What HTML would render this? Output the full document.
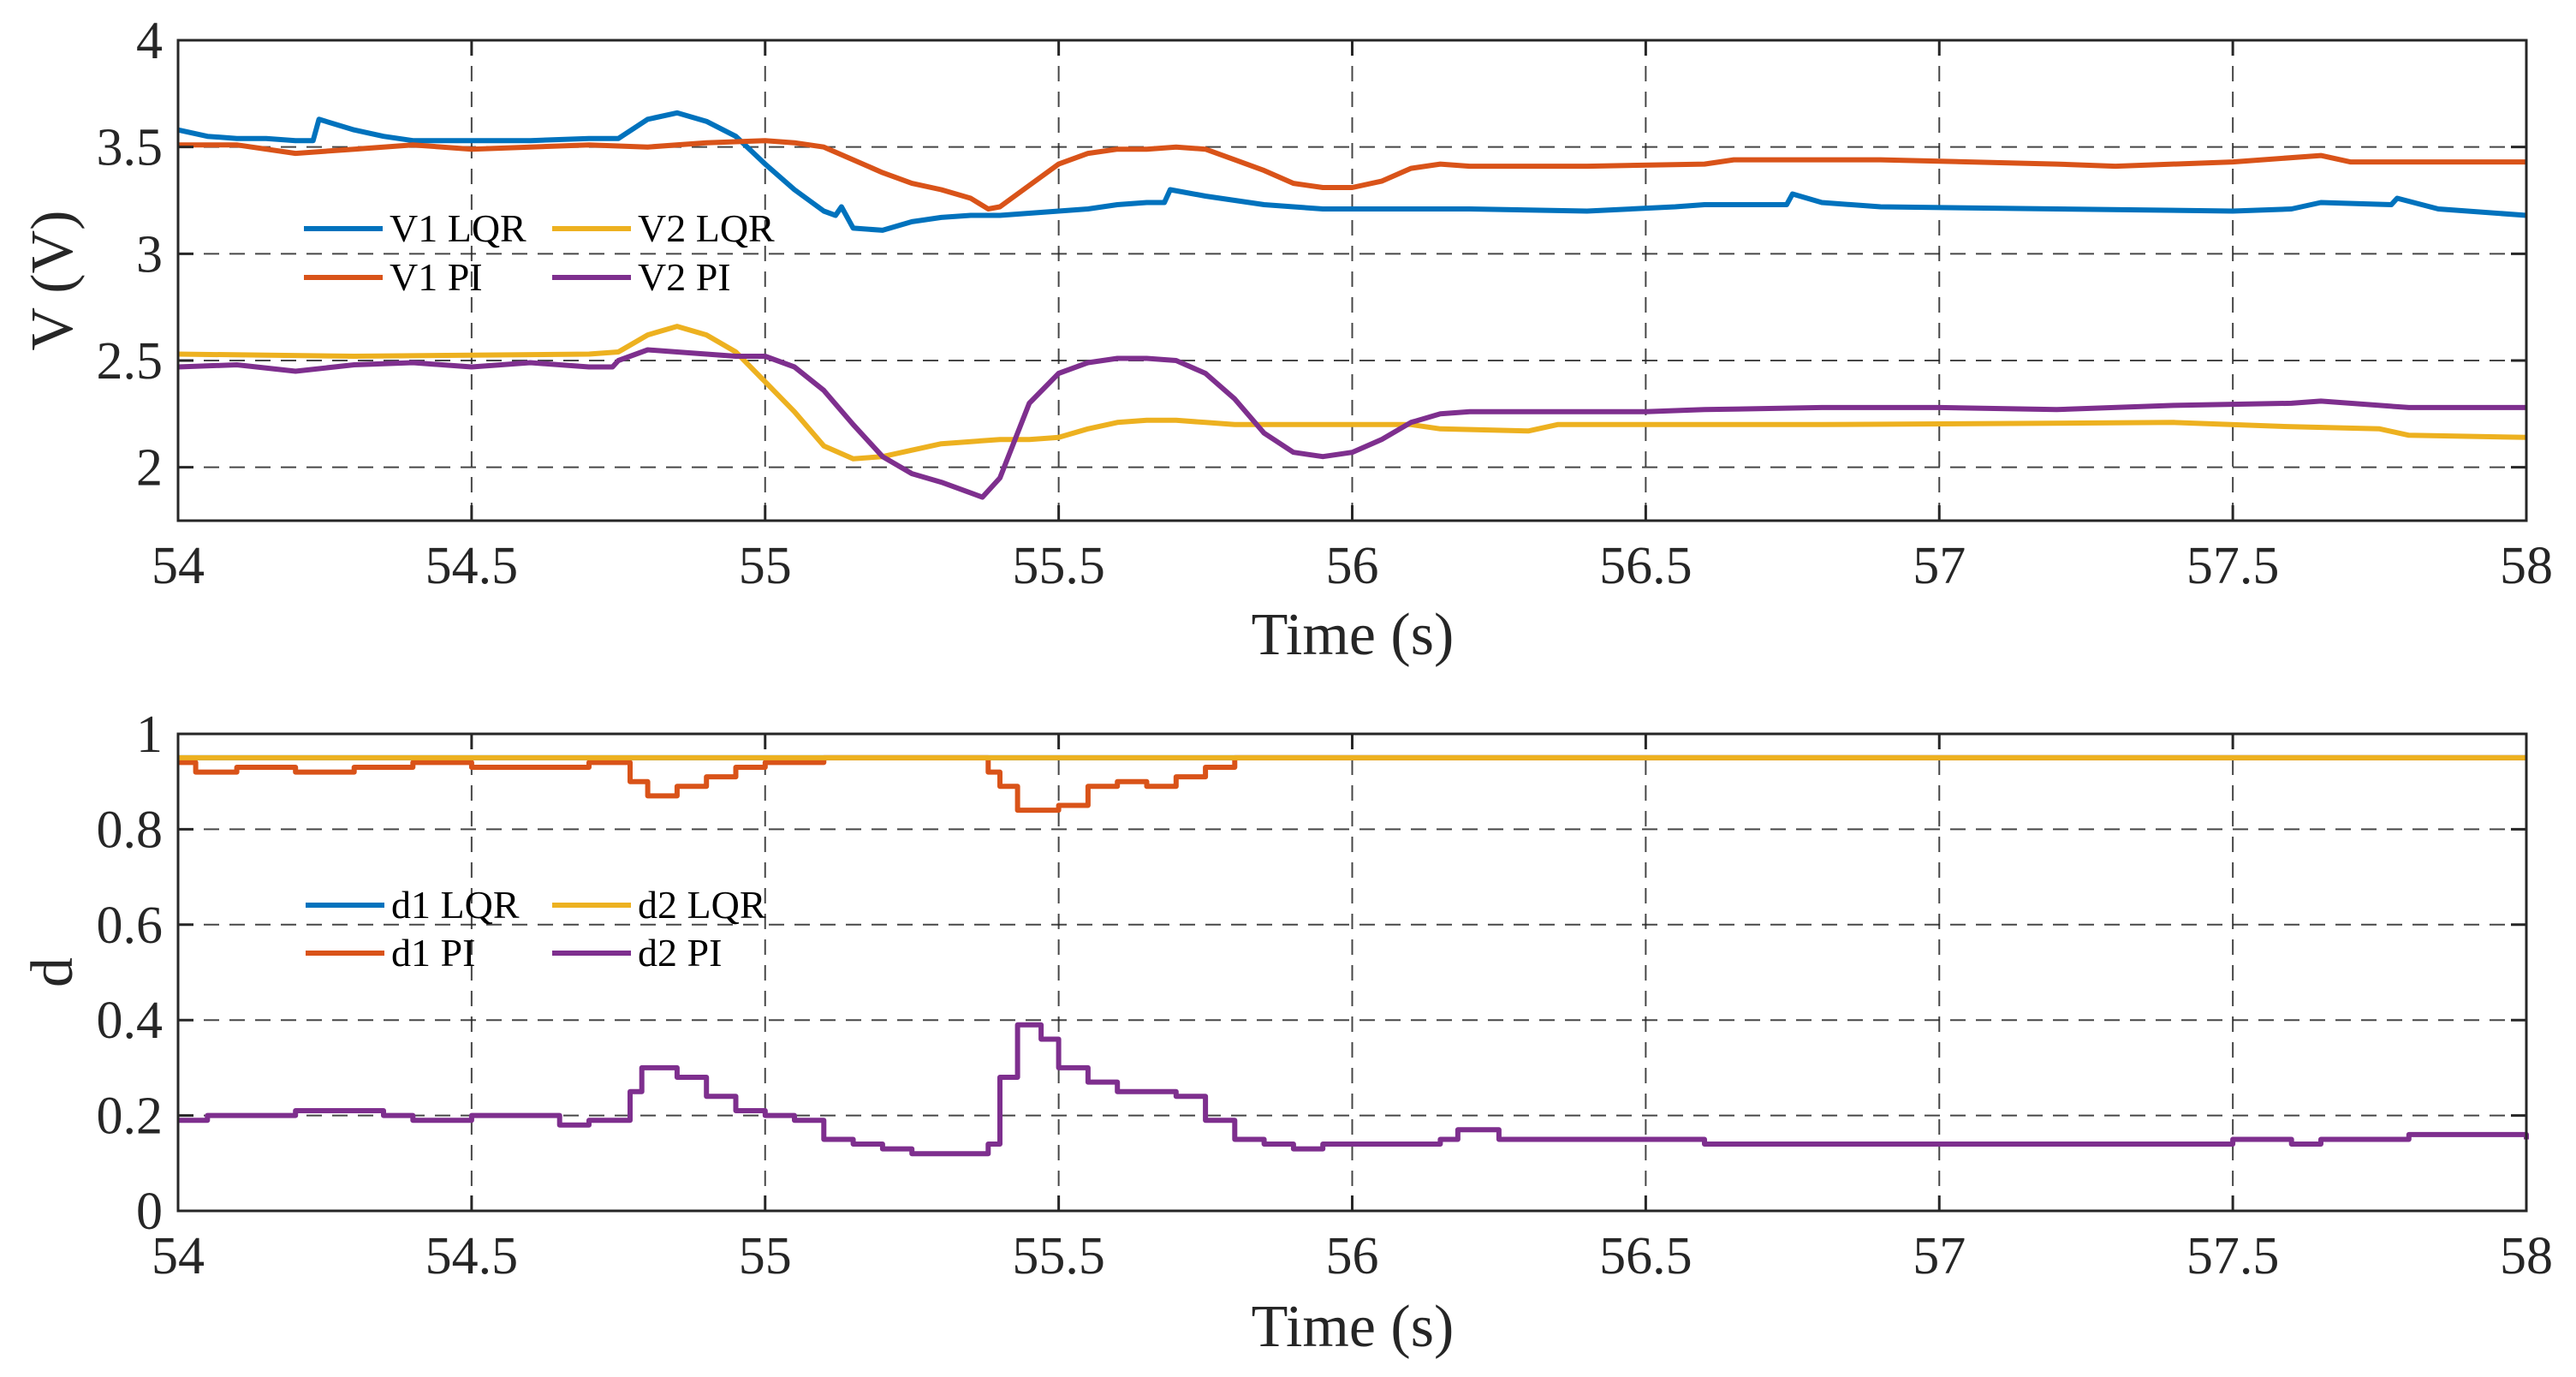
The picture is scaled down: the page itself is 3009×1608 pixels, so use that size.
<!DOCTYPE html>
<html><head><meta charset="utf-8"><style>
html,body{margin:0;padding:0;background:#fff;}
svg{display:block;font-family:"Liberation Serif",serif;}
</style></head><body>
<svg id="fig" width="3009" height="1608" viewBox="0 0 3009 1608" xmlns="http://www.w3.org/2000/svg"></svg>
<script>
const xTicks=[54,54.5,55,55.5,56,56.5,57,57.5,58];
const xTickLabels=["54","54.5","55","55.5","56","56.5","57","57.5","58"];
const vTicks=[2,2.5,3,3.5,4];
const vTickLabels=["2","2.5","3","3.5","4"];
const dTicks=[0,0.2,0.4,0.6,0.8,1];
const dTickLabels=["0","0.2","0.4","0.6","0.8","1"];

const v1lqrT=[54,54.05,54.1,54.15,54.2,54.23,54.24,54.3,54.35,54.4,54.5,54.6,54.7,54.75,54.8,54.85,54.9,54.95,55,55.05,55.1,55.12,55.13,55.15,55.2,55.25,55.3,55.35,55.4,55.45,55.5,55.55,55.6,55.65,55.68,55.69,55.75,55.8,55.85,55.9,55.95,56,56.2,56.4,56.55,56.6,56.74,56.75,56.8,56.9,57.2,57.5,57.6,57.65,57.77,57.78,57.85,58];
const v1lqrV=[3.58,3.55,3.54,3.54,3.53,3.53,3.63,3.58,3.55,3.53,3.53,3.53,3.54,3.54,3.63,3.66,3.62,3.55,3.42,3.3,3.2,3.18,3.22,3.12,3.11,3.15,3.17,3.18,3.18,3.19,3.2,3.21,3.23,3.24,3.24,3.3,3.27,3.25,3.23,3.22,3.21,3.21,3.21,3.2,3.22,3.23,3.23,3.28,3.24,3.22,3.21,3.2,3.21,3.24,3.23,3.26,3.21,3.18];
const v1piT=[54,54.1,54.2,54.3,54.4,54.5,54.6,54.7,54.8,54.9,55,55.05,55.1,55.15,55.2,55.25,55.3,55.35,55.38,55.4,55.45,55.5,55.55,55.6,55.65,55.7,55.75,55.8,55.85,55.9,55.95,56,56.05,56.1,56.15,56.2,56.4,56.6,56.65,56.9,57.2,57.3,57.5,57.65,57.7,58];
const v1piV=[3.51,3.51,3.47,3.49,3.51,3.49,3.5,3.51,3.5,3.52,3.53,3.52,3.5,3.44,3.38,3.33,3.3,3.26,3.21,3.22,3.32,3.42,3.47,3.49,3.49,3.5,3.49,3.44,3.39,3.33,3.31,3.31,3.34,3.4,3.42,3.41,3.41,3.42,3.44,3.44,3.42,3.41,3.43,3.46,3.43,3.43];
const v2lqrT=[54,54.3,54.7,54.75,54.8,54.85,54.9,54.95,55,55.05,55.1,55.15,55.2,55.25,55.3,55.35,55.4,55.45,55.5,55.55,55.6,55.65,55.7,55.75,55.8,56.1,56.15,56.3,56.35,56.8,57.4,57.6,57.75,57.8,58];
const v2lqrV=[2.53,2.52,2.53,2.54,2.62,2.66,2.62,2.54,2.4,2.26,2.1,2.04,2.05,2.08,2.11,2.12,2.13,2.13,2.14,2.18,2.21,2.22,2.22,2.21,2.2,2.2,2.18,2.17,2.2,2.2,2.21,2.19,2.18,2.15,2.14];
const v2piT=[54,54.1,54.2,54.3,54.4,54.5,54.6,54.7,54.74,54.75,54.8,54.85,54.9,54.95,55,55.05,55.1,55.15,55.2,55.25,55.3,55.35,55.37,55.4,55.45,55.5,55.55,55.6,55.65,55.7,55.75,55.8,55.85,55.9,55.95,56,56.05,56.1,56.15,56.2,56.5,56.6,56.8,57,57.2,57.4,57.6,57.65,57.8,58];
const v2piV=[2.47,2.48,2.45,2.48,2.49,2.47,2.49,2.47,2.47,2.5,2.55,2.54,2.53,2.52,2.52,2.47,2.36,2.2,2.05,1.97,1.93,1.88,1.86,1.95,2.3,2.44,2.49,2.51,2.51,2.5,2.44,2.32,2.16,2.07,2.05,2.07,2.13,2.21,2.25,2.26,2.26,2.27,2.28,2.28,2.27,2.29,2.3,2.31,2.28,2.28];

const d1lqrT=[54,58];
const d1lqrV=[0.95,0.95];
const d2lqrT=[54,58];
const d2lqrV=[0.95,0.95];
const d1piT=[54,54.03,54.1,54.2,54.3,54.4,54.5,54.6,54.7,54.75,54.77,54.8,54.85,54.9,54.95,55,55.1,55.35,55.38,55.4,55.43,55.5,55.55,55.6,55.65,55.7,55.75,55.8,58];
const d1piV=[0.94,0.92,0.93,0.92,0.93,0.94,0.93,0.93,0.94,0.94,0.9,0.87,0.89,0.91,0.93,0.94,0.95,0.95,0.92,0.89,0.84,0.85,0.89,0.9,0.89,0.91,0.93,0.95,0.95];
const d2piT=[54,54.05,54.1,54.2,54.3,54.35,54.4,54.5,54.6,54.65,54.7,54.75,54.77,54.79,54.85,54.9,54.95,55,55.05,55.1,55.15,55.2,55.25,55.3,55.35,55.38,55.4,55.43,55.47,55.5,55.55,55.6,55.65,55.7,55.75,55.8,55.85,55.9,55.95,56.15,56.18,56.25,56.3,56.5,56.6,57.5,57.6,57.65,57.8,58];
const d2piV=[0.19,0.2,0.2,0.21,0.21,0.2,0.19,0.2,0.2,0.18,0.19,0.19,0.25,0.3,0.28,0.24,0.21,0.2,0.19,0.15,0.14,0.13,0.12,0.12,0.12,0.14,0.28,0.39,0.36,0.3,0.27,0.25,0.25,0.24,0.19,0.15,0.14,0.13,0.14,0.15,0.17,0.15,0.15,0.15,0.14,0.15,0.14,0.15,0.16,0.15];

const C={blue:"#0072BD",orange:"#D95319",yellow:"#EDB120",purple:"#7E2F8E"};
const NS="http://www.w3.org/2000/svg";
const svg=document.getElementById('fig');
function mk(tag,attrs,parent){const e=document.createElementNS(NS,tag);for(const k in attrs)e.setAttribute(k,attrs[k]);(parent||svg).appendChild(e);return e;}

function drawAxes(cfg){
  const g=mk('g',{});
  
  
  const L=208,R=2951,T=cfg.top,B=cfg.bottom;
  const sx=x=>L+(x-54)/(58-54)*(R-L);
  const sy=y=>B-(y-cfg.ymin)/(cfg.ymax-cfg.ymin)*(B-T);
  mk('rect',{x:L,y:T,width:R-L,height:B-T,fill:'#fff'},g);
  xTicks.forEach((t,i)=>{
    if(i>0&&i<xTicks.length-1){
      const l=mk('line',{x1:sx(t),x2:sx(t),y1:T,y2:B,stroke:'#262626','stroke-width':2,'stroke-dasharray':'18,12','stroke-opacity':0.85},g);
      
      
    }
  });
  cfg.yTicks.forEach((t,i)=>{
    if(sy(t)>T+2&&sy(t)<B-2){
      const l=mk('line',{x1:L,x2:R,y1:sy(t),y2:sy(t),stroke:'#262626','stroke-width':2,'stroke-dasharray':'18,12','stroke-opacity':0.85},g);
      
      
    }
  });
  cfg.drawOrder.forEach(idx=>{
    const s=cfg.series[idx];
    let d='';
    s.t.forEach((t,i)=>{
      if(i===0){d+='M'+sx(t).toFixed(1)+','+sy(s.v[i]).toFixed(1);}
      else if(cfg.step){d+='H'+sx(t).toFixed(1)+'V'+sy(s.v[i]).toFixed(1);}
      else{d+='L'+sx(t).toFixed(1)+','+sy(s.v[i]).toFixed(1);}
    });
    const p=mk('path',{d:d,fill:'none',stroke:s.color,'stroke-width':6,'stroke-linejoin':'round'},g);
    
    
  });
  const bx=mk('rect',{x:L,y:T,width:R-L,height:B-T,fill:'none',stroke:'#262626','stroke-width':3},g);
  
  
  xTicks.forEach((t,i)=>{
    mk('line',{x1:sx(t),x2:sx(t),y1:B,y2:B-18,stroke:'#262626','stroke-width':3},g);
    mk('line',{x1:sx(t),x2:sx(t),y1:T,y2:T+18,stroke:'#262626','stroke-width':3},g);
    const tx=mk('text',{x:sx(t),y:B+73,'font-size':62,'text-anchor':'middle',fill:'#262626'},g);
    tx.textContent=xTickLabels[i];
    
    
  });
  cfg.yTicks.forEach((t,i)=>{
    mk('line',{x1:L,x2:L+18,y1:sy(t),y2:sy(t),stroke:'#262626','stroke-width':3},g);
    mk('line',{x1:R,x2:R-18,y1:sy(t),y2:sy(t),stroke:'#262626','stroke-width':3},g);
    const tx=mk('text',{x:190,y:sy(t)+21,'font-size':62,'text-anchor':'end',fill:'#262626'},g);
    tx.textContent=cfg.yLabels[i];
    
    
  });
  const xl=mk('text',{x:1580,y:cfg.xlabelY,'font-size':70,'text-anchor':'middle',fill:'#262626'},g);
  xl.textContent='Time (s)';
  
  
  const yl=mk('text',{x:0,y:0,'font-size':70,'text-anchor':'middle',fill:'#262626',transform:`translate(84,${(T+B)/2}) rotate(-90)`},g);
  yl.textContent=cfg.ylabel;
  
  
  const lg=mk('g',{},g);
  
  
  cfg.series.forEach((s,i)=>{
    const col=i%2, row=Math.floor(i/2);
    const lx=cfg.legX[col], ly=cfg.legY[row];
    const e=mk('g',{},lg);
    
    
    mk('line',{x1:lx,x2:lx+92,y1:ly,y2:ly,stroke:s.color,'stroke-width':6},e);
    const t=mk('text',{x:lx+100,y:ly+15,'font-size':46,fill:'#000'},e);
    t.textContent=s.label;
  });
}

drawAxes({name:'voltage-chart',top:47,bottom:608,ymin:1.75,ymax:4,yTicks:vTicks,yLabels:vTickLabels,ylabel:'V (V)',xlabelY:764,
  legX:[355,645],legY:[267,324],drawOrder:[0,2,1,3],step:false,
  series:[
    {name:'v1-lqr-line',label:'V1 LQR',color:C.blue,t:v1lqrT,v:v1lqrV},
    {name:'v2-lqr-line',label:'V2 LQR',color:C.yellow,t:v2lqrT,v:v2lqrV},
    {name:'v1-pi-line',label:'V1 PI',color:C.orange,t:v1piT,v:v1piV},
    {name:'v2-pi-line',label:'V2 PI',color:C.purple,t:v2piT,v:v2piV}
  ]});
drawAxes({name:'duty-chart',top:857,bottom:1414,ymin:0,ymax:1,yTicks:dTicks,yLabels:dTickLabels,ylabel:'d',xlabelY:1572,
  legX:[357,645],legY:[1057,1113],drawOrder:[0,2,1,3],step:true,
  series:[
    {name:'d1-lqr-line',label:'d1 LQR',color:C.blue,t:d1lqrT,v:d1lqrV},
    {name:'d2-lqr-line',label:'d2 LQR',color:C.yellow,t:d2lqrT,v:d2lqrV},
    {name:'d1-pi-line',label:'d1 PI',color:C.orange,t:d1piT,v:d1piV},
    {name:'d2-pi-line',label:'d2 PI',color:C.purple,t:d2piT,v:d2piV}
  ]});
</script>
</body></html>
